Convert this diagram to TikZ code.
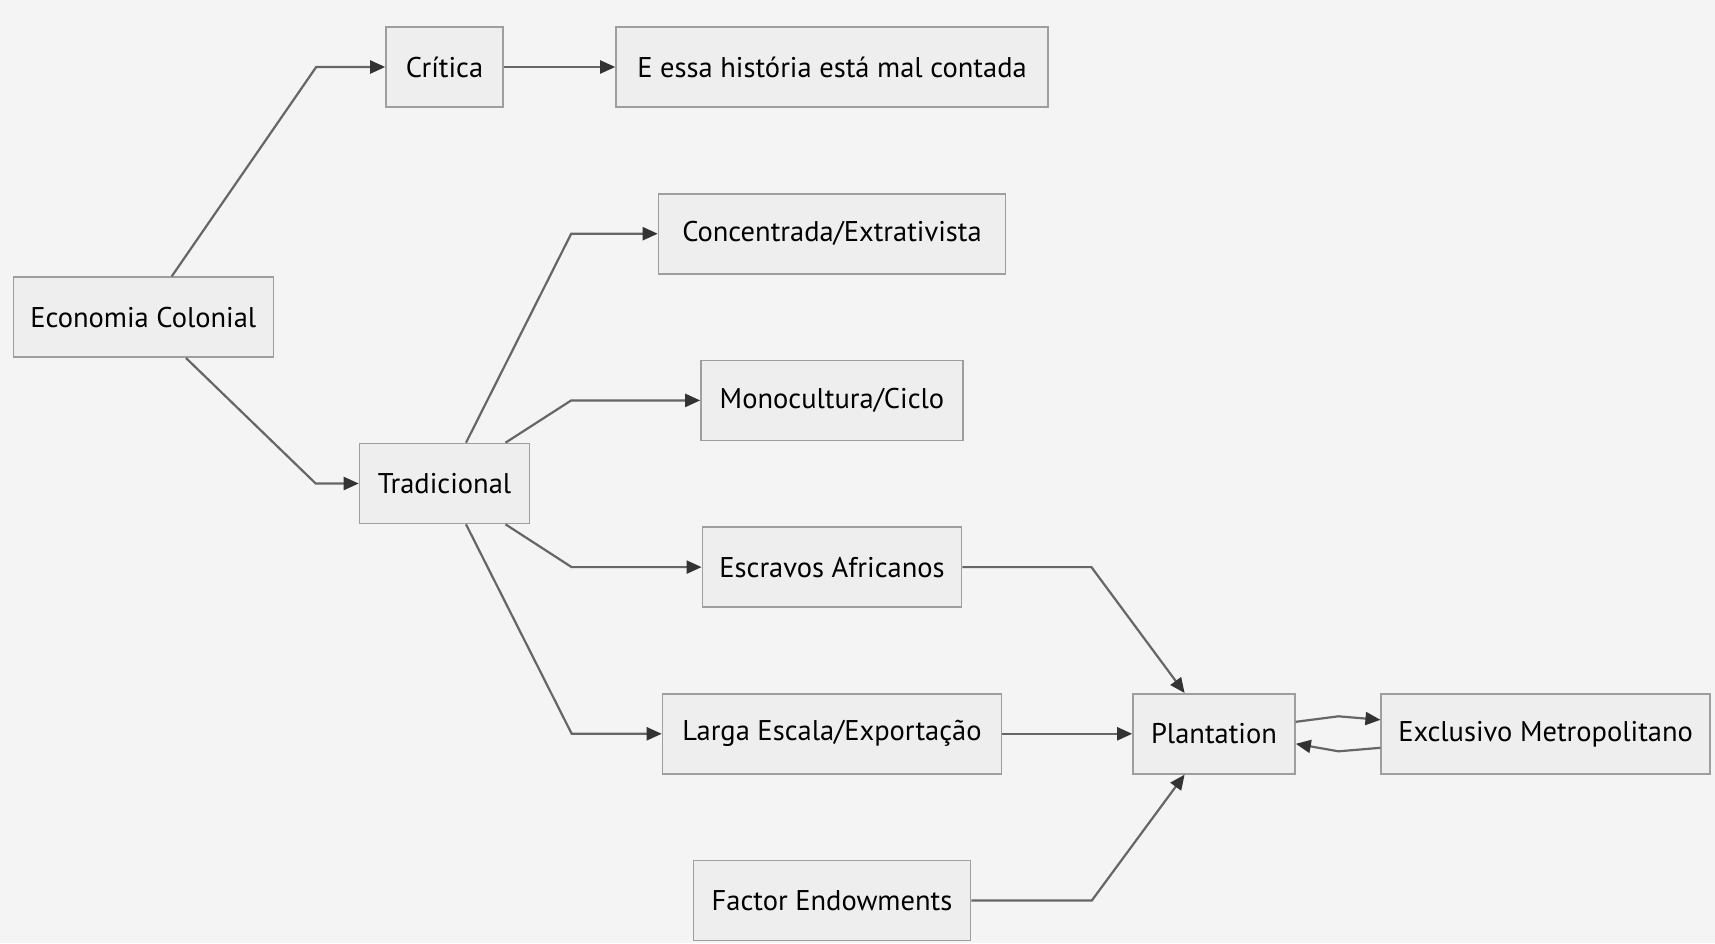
\documentclass[tikz,border=0pt]{standalone}
\usepackage{fontspec}
\setmainfont{PT Sans}
\usetikzlibrary{arrows.meta}
\definecolor{bgc}{HTML}{F4F4F4}
\definecolor{boxfill}{HTML}{EEEEEE}
\definecolor{boxline}{HTML}{9E9E9E}
\definecolor{linkc}{HTML}{666666}
\definecolor{tipc}{HTML}{333333}
\begin{document}
\begin{tikzpicture}[
  x=1pt, y=1pt,
  node distance=166.7pt,
  block/.style = {
    draw=boxline,
    line width=1.6pt,
    shape=rectangle,
    minimum height=80pt,
    fill=boxfill,
    inner xsep=17pt,
    font=\fontsize{28.5}{32}\selectfont,
    text=black,
    align=center
  },
  link/.style = {
    draw=linkc,
    line width=2.2pt,
    -{Triangle[length=15pt,width=13pt,color=tipc]}
  },
]
  \fill[bgc] (0,0) rectangle (1715,-943);
  \useasboundingbox (0,0) rectangle (1715,-943);

  \node (econ)[block, minimum width=260pt] at (143.3,-317.2) {Economia Colonial};
  \node (critica)[block, minimum width=117pt] at (444.5,-67) {Crítica};
  \node (trad)[
    below of=critica,
    block,
    minimum width=170pt,
    yshift=-249.8pt
  ] {Tradicional};
  \node (essa)[
    right of=critica,
    block,
    minimum width=432pt,
    xshift=220.8pt
  ] {E essa história está mal contada};
  \node (conc)[
    below of=essa,
    block,
    minimum width=347pt
  ] {Concentrada/Extrativista};
  \node (mono)[
    below of=conc,
    block,
    minimum width=262pt
  ] {Monocultura/Ciclo};
  \node (escravos)[
    below of=mono,
    block,
    minimum width=259pt
  ] {Escravos Africanos};
  \node (larga)[
    below of=escravos,
    block,
    minimum width=339pt
  ] {Larga Escala/Exportação};
  \node (factor)[
    below of=larga,
    block,
    minimum width=277pt
  ] {Factor Endowments};
  \node (plant)[
    right of=larga,
    block,
    minimum width=162pt,
    xshift=215.3pt
  ] {Plantation};
  \node (exclusivo)[
    right of=plant,
    block,
    minimum width=328pt,
    xshift=164.9pt
  ] {Exclusivo Metropolitano};

  \draw[link] ([xshift=28.4pt]econ.north) -- ([xshift=-69pt]critica.west) -- (critica.west);
  \draw[link] ([xshift=42.7pt]econ.south) -- ([xshift=-43pt]trad.west) -- (trad.west);
  \draw[link] (critica) -- (essa);
  \draw[link] ([xshift=21.5pt]trad.north) -- ([xshift=-86.5pt]conc.west) -- (conc.west);
  \draw[link] ([xshift=61pt]trad.north) -- ([xshift=-129pt]mono.west) -- (mono.west);
  \draw[link] ([xshift=61pt]trad.south) -- ([xshift=-130pt]escravos.west) -- (escravos.west);
  \draw[link] ([xshift=21.5pt]trad.south) -- ([xshift=-90pt]larga.west) -- (larga.west);
  \draw[link] (escravos.east) -- ([xshift=129pt]escravos.east) -- ([xshift=-29.4pt]plant.north);
  \draw[link] (larga) -- (plant);
  \draw[link] (factor.east) -- ([xshift=120.5pt]factor.east) -- ([xshift=-29.4pt]plant.south);
  \draw[link] ([yshift=12pt]plant.east) -- ([xshift=42.7pt,yshift=17.5pt]plant.east) -- ([yshift=14pt]exclusivo.west);
  \draw[link] ([yshift=-14pt]exclusivo.west) -- ([xshift=42.7pt,yshift=-17.5pt]plant.east) -- ([yshift=-10pt]plant.east);
\end{tikzpicture}
\end{document}
